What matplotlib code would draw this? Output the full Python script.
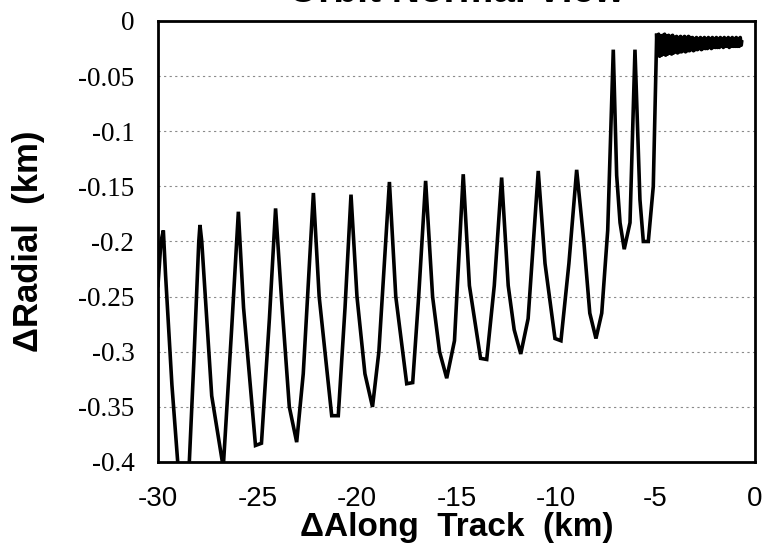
import matplotlib
matplotlib.use('Agg')
import matplotlib.pyplot as plt

# 接近段：沿航迹 / 径向 (km)
approach_along = [-30.0, -29.85, -29.73, -29.62, -29.3, -28.8, -28.55, -28.2, -27.95, -27.89,
                  -27.8, -27.3, -26.72, -26.3, -25.96, -25.7, -25.1, -24.8, -24.4, -24.09,
                  -23.8, -23.4, -23.03, -22.7, -22.19, -21.9, -21.27, -20.94, -20.6, -20.30,
                  -20.0, -19.6, -19.22, -18.9, -18.37, -18.05, -17.5, -17.2, -16.9, -16.55,
                  -16.2, -15.85, -15.49, -15.1, -14.66, -14.35, -13.79, -13.48, -13.1, -12.73,
                  -12.4, -12.1, -11.77, -11.4, -10.89, -10.55, -10.05, -9.75, -9.35, -8.96,
                  -8.6, -8.3, -7.99, -7.7, -7.4, -7.12, -6.95, -6.78, -6.57, -6.28,
                  -6.03, -5.78, -5.61, -5.36, -5.11, -4.96]
approach_radial = [-0.24, -0.20, -0.19, -0.23, -0.33, -0.45, -0.45, -0.31, -0.20, -0.185,
                   -0.20, -0.34, -0.405, -0.28, -0.173, -0.26, -0.385, -0.383, -0.27, -0.17,
                   -0.25, -0.35, -0.382, -0.32, -0.156, -0.25, -0.358, -0.358, -0.26, -0.1575,
                   -0.25, -0.32, -0.35, -0.30, -0.146, -0.25, -0.329, -0.328, -0.25, -0.145,
                   -0.25, -0.30, -0.324, -0.29, -0.139, -0.24, -0.306, -0.307, -0.24, -0.142,
                   -0.24, -0.28, -0.302, -0.27, -0.136, -0.22, -0.288, -0.29, -0.22, -0.135,
                   -0.20, -0.265, -0.288, -0.265, -0.19, -0.026, -0.14, -0.183, -0.207, -0.183,
                   -0.026, -0.162, -0.20, -0.20, -0.15, -0.03]

# 保持段（抖动）
hold_along = [-4.94, -4.89, -4.84, -4.79, -4.74, -4.69, -4.64, -4.59, -4.54, -4.49,
              -4.44, -4.39, -4.34, -4.29, -4.24, -4.19, -4.14, -4.09, -4.04, -3.99,
              -3.94, -3.89, -3.84, -3.79, -3.74, -3.69, -3.64, -3.59, -3.54, -3.49,
              -3.44, -3.39, -3.34, -3.29, -3.24, -3.19, -3.14, -3.09, -3.04, -2.99,
              -2.94, -2.89, -2.84, -2.79, -2.74, -2.69, -2.64, -2.59, -2.54, -2.49,
              -2.44, -2.39, -2.34, -2.29, -2.24, -2.19, -2.14, -2.09, -2.04, -1.99,
              -1.94, -1.89, -1.84, -1.79, -1.74, -1.69, -1.64, -1.59, -1.54, -1.49,
              -1.44, -1.39, -1.34, -1.29, -1.24, -1.19, -1.14, -1.09, -1.04, -0.99,
              -0.94, -0.89, -0.84, -0.79, -0.74, -0.69, -0.67]
hold_radial = [-0.013, -0.031, -0.012, -0.032, -0.014, -0.031, -0.013, -0.030, -0.012, -0.031,
               -0.014, -0.030, -0.013, -0.029, -0.014, -0.030, -0.013, -0.029, -0.015, -0.028,
               -0.014, -0.029, -0.015, -0.028, -0.014, -0.028, -0.015, -0.027, -0.014, -0.028,
               -0.015, -0.027, -0.014, -0.027, -0.015, -0.026, -0.015, -0.027, -0.016, -0.026,
               -0.015, -0.026, -0.016, -0.025, -0.015, -0.026, -0.016, -0.025, -0.015, -0.025,
               -0.016, -0.025, -0.015, -0.024, -0.016, -0.025, -0.015, -0.024, -0.016, -0.024,
               -0.015, -0.024, -0.016, -0.024, -0.015, -0.023, -0.016, -0.024, -0.015, -0.023,
               -0.016, -0.023, -0.015, -0.024, -0.016, -0.023, -0.015, -0.023, -0.016, -0.023,
               -0.015, -0.023, -0.016, -0.023, -0.015, -0.022, -0.019]

x_ticks = [-30, -25, -20, -15, -10, -5, 0]
y_ticks = [0, -0.05, -0.1, -0.15, -0.2, -0.25, -0.3, -0.35, -0.4]
y_tick_labels = ['0', '-0.05', '-0.1', '-0.15', '-0.2', '-0.25', '-0.3', '-0.35', '-0.4']

fig = plt.figure(figsize=(7.71, 5.45), dpi=100)
ax = fig.add_axes([0.2049, 0.1523, 0.7743, 0.8092])

# 横向虚线网格
for yy in y_ticks[1:-1]:
    ax.axhline(yy, color='#8a8a8a', lw=0.8, ls=(0, (2, 3)), zorder=1)

ax.plot(approach_along + hold_along[:1], approach_radial + hold_radial[:1],
        color='black', lw=2.6, solid_joinstyle='miter', zorder=3)
ax.plot(hold_along, hold_radial, color='black', lw=2.6, solid_joinstyle='round', zorder=3)

ax.set_xlim(-30, 0)
ax.set_ylim(-0.4, 0)
ax.set_xticks(x_ticks)
ax.set_xticklabels([str(t) for t in x_ticks], family='Liberation Sans', fontsize=20)
ax.set_yticks(y_ticks)
ax.set_yticklabels(y_tick_labels, family='Liberation Serif', fontsize=19.5)
ax.tick_params(axis='x', length=0, pad=17)
ax.tick_params(axis='y', length=0, pad=17)
for s in ax.spines.values():
    s.set_linewidth(2.0)

ax.set_xlabel('\u0394Along  Track  (km)', family='Liberation Sans', fontweight='bold', fontsize=24)
ax.xaxis.set_label_coords(0.5, -0.113)
ax.set_ylabel('\u0394Radial  (km)', family='Liberation Sans', fontweight='bold', fontsize=25)
ax.yaxis.set_label_coords(-0.19, 0.5)
ax.set_title('Orbit Normal View', family='Liberation Sans', fontweight='bold', fontsize=28, pad=14)

fig.savefig('out.png', dpi=100)
